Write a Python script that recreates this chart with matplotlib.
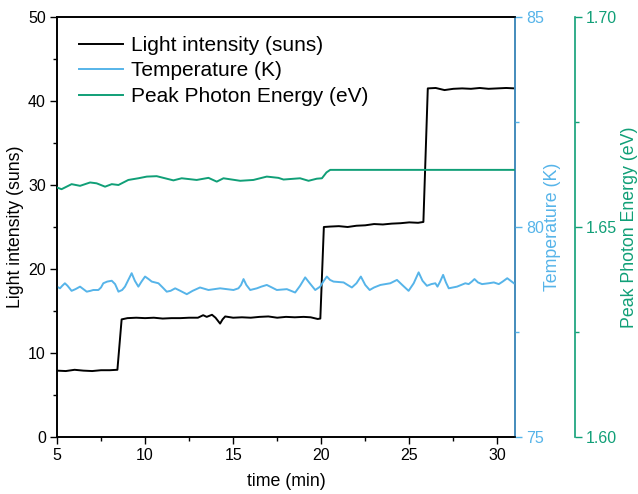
import numpy as np
import matplotlib
matplotlib.use("Agg")
import matplotlib.pyplot as plt
from matplotlib.ticker import MultipleLocator

plt.rcParams['font.family'] = ['Liberation Sans', 'DejaVu Sans']

# --- light intensity (suns) ---
t_light = [5.0, 5.5, 6.0, 6.5, 7.0, 7.5, 8.0, 8.43, 8.67, 9.0, 9.5, 10.0, 10.5, 11.0, 11.5, 12.0,
           12.5, 13.0, 13.3, 13.5, 13.8, 14.0, 14.26, 14.4, 14.55, 15.0, 15.5, 16.0, 16.5, 17.0,
           17.5, 18.0, 18.5, 19.0, 19.4, 19.8, 19.95, 20.15, 20.5, 21.0, 21.5, 22.0, 22.5, 23.0,
           23.5, 24.0, 24.5, 25.0, 25.5, 25.8, 26.05, 26.5, 27.0, 27.5, 28.0, 28.5, 29.0, 29.5,
           30.0, 30.5, 31.0]
light = [7.9, 7.85, 8.0, 7.9, 7.85, 7.95, 7.95, 8.0, 14.0, 14.15, 14.2, 14.15, 14.2, 14.1, 14.15, 14.15,
         14.2, 14.2, 14.5, 14.3, 14.55, 14.2, 13.5, 14.0, 14.35, 14.2, 14.25, 14.2, 14.3, 14.35,
         14.2, 14.3, 14.25, 14.3, 14.25, 14.05, 14.1, 25.0, 25.05, 25.1, 25.0, 25.15, 25.2, 25.35,
         25.3, 25.4, 25.45, 25.55, 25.5, 25.6, 41.5, 41.55, 41.3, 41.45, 41.5, 41.45, 41.55, 41.45,
         41.5, 41.55, 41.5]

# --- temperature (K) ---
t_temp = [5.0, 5.17, 5.3, 5.45, 5.6, 5.83, 6.05, 6.31, 6.5, 6.69, 6.9, 7.06, 7.35, 7.5, 7.63, 7.85,
          8.11, 8.3, 8.49, 8.7, 8.86, 9.05, 9.24, 9.42, 9.62, 9.8, 10.0, 10.2, 10.38, 10.76, 11.0,
          11.23, 11.45, 11.71, 12.0, 12.37, 12.7, 13.12, 13.6, 14.26, 15.02, 15.3, 15.45, 15.59,
          15.75, 15.97, 16.35, 16.6, 16.91, 17.2, 17.48, 18.05, 18.52, 18.8, 19.09, 19.35, 19.66,
          19.94, 20.15, 20.32, 20.5, 20.7, 21.27, 21.5, 21.74, 22.0, 22.25, 22.5, 22.75, 23.0,
          23.36, 23.92, 24.3, 24.65, 24.96, 25.25, 25.53, 25.75, 26.0, 26.25, 26.48, 26.6, 26.75,
          26.92, 27.08, 27.24, 27.71, 28.18, 28.37, 28.55, 28.7, 28.9, 29.13, 29.5, 29.8, 30.08,
          30.3, 30.56, 30.75, 30.94]
temp = [78.58, 78.54, 78.6, 78.66, 78.6, 78.48, 78.52, 78.58, 78.52, 78.46, 78.48, 78.5, 78.5, 78.56,
        78.66, 78.7, 78.72, 78.64, 78.46, 78.5, 78.58, 78.74, 78.9, 78.72, 78.58, 78.7, 78.82, 78.76,
        78.7, 78.66, 78.56, 78.46, 78.48, 78.54, 78.48, 78.4, 78.48, 78.56, 78.5, 78.54, 78.5,
        78.54, 78.62, 78.76, 78.62, 78.5, 78.54, 78.58, 78.62, 78.56, 78.5, 78.52, 78.44, 78.6,
        78.8, 78.66, 78.5, 78.58, 78.72, 78.82, 78.74, 78.7, 78.68, 78.62, 78.56, 78.66, 78.82,
        78.62, 78.5, 78.56, 78.62, 78.66, 78.74, 78.6, 78.48, 78.66, 78.92, 78.72, 78.6, 78.64,
        78.66, 78.58, 78.7, 78.86, 78.68, 78.54, 78.58, 78.66, 78.64, 78.7, 78.76, 78.68, 78.64,
        78.66, 78.68, 78.64, 78.7, 78.78, 78.72, 78.66]

# --- peak photon energy (eV) ---
t_energy = [5.0, 5.26, 5.83, 6.31, 6.88, 7.25, 7.73, 8.11, 8.49, 9.05, 9.62, 10.1, 10.66, 11.61,
            12.08, 12.93, 13.6, 14.07, 14.45, 15.4, 16.15, 16.53, 16.91, 17.57, 17.86, 18.8, 19.28,
            19.75, 20.04, 20.3, 20.51, 25.0, 31.0]
energy = [1.6594, 1.6590, 1.6602, 1.6598, 1.6606, 1.6604, 1.6596, 1.6602, 1.6600, 1.6612, 1.6616,
          1.6620, 1.6621, 1.6611, 1.6616, 1.6612, 1.6617, 1.6608, 1.6616, 1.6610, 1.6612, 1.6616,
          1.6620, 1.6617, 1.6613, 1.6616, 1.6610, 1.6615, 1.6616, 1.6630, 1.6636, 1.6636, 1.6636]

c_temp = '#56B4E9'
c_energy = '#109F77'

fig = plt.figure(figsize=(6.38, 4.94), dpi=100)
ax = fig.add_axes([0.0893, 0.1154, 0.7179, 0.8502])
ax2 = ax.twinx()
ax3 = ax.twinx()
ax3.spines['right'].set_position(('axes', 1 + 60 / 458))

l1, = ax.plot(t_light, light, color='black', lw=1.4, label='Light intensity (suns)')
l2, = ax2.plot(t_temp, temp, color=c_temp, lw=1.4, label='Temperature (K)')
l3, = ax3.plot(t_energy, energy, color=c_energy, lw=1.4, label='Peak Photon Energy (eV)')

ax.set_xlim(5, 31)
ax.set_ylim(0, 50)
ax2.set_ylim(75, 85)
ax3.set_ylim(1.60, 1.70)

ax.xaxis.set_major_locator(MultipleLocator(5))
ax.xaxis.set_minor_locator(MultipleLocator(2.5))
ax.yaxis.set_major_locator(MultipleLocator(10))
ax.yaxis.set_minor_locator(MultipleLocator(5))
ax2.yaxis.set_major_locator(MultipleLocator(5))
ax2.yaxis.set_minor_locator(MultipleLocator(2.5))
ax3.yaxis.set_major_locator(MultipleLocator(0.05))
ax3.yaxis.set_minor_locator(MultipleLocator(0.025))
ax3.yaxis.set_major_formatter(matplotlib.ticker.FormatStrFormatter('%.2f'))

for a in (ax, ax2, ax3):
    a.tick_params(which='major', direction='out', length=5, width=1, labelsize=11.5, pad=3)
    a.tick_params(which='minor', direction='out', length=3, width=1)
    for s in a.spines.values():
        s.set_linewidth(1.2)

ax.tick_params(axis='y', which='both', right=False)
ax.tick_params(axis='x', which='both', top=False)

ax2.spines['right'].set_color('#4FA3DB')
ax2.tick_params(axis='y', which='both', colors=c_temp)
ax3.spines['right'].set_color(c_energy)
ax3.tick_params(axis='y', which='both', colors=c_energy)
for s in ('top', 'left', 'bottom'):
    ax3.spines[s].set_visible(False)

ax.set_xlabel('time (min)', fontsize=12.8, labelpad=7)
ax.set_ylabel('Light intensity (suns)', fontsize=12.8, labelpad=3)
ax2.set_ylabel('Temperature (K)', fontsize=12.8, color=c_temp, labelpad=0)
ax3.set_ylabel('Peak Photon Energy (eV)', fontsize=12.8, color=c_energy, labelpad=3)

ax.legend(handles=[l1, l2, l3], loc='upper left', bbox_to_anchor=(0.02, 0.985), frameon=False,
          fontsize=15, handlelength=2.15, handletextpad=0.35, labelspacing=0.32, borderaxespad=0.2)

fig.savefig('out.png', dpi=100)
